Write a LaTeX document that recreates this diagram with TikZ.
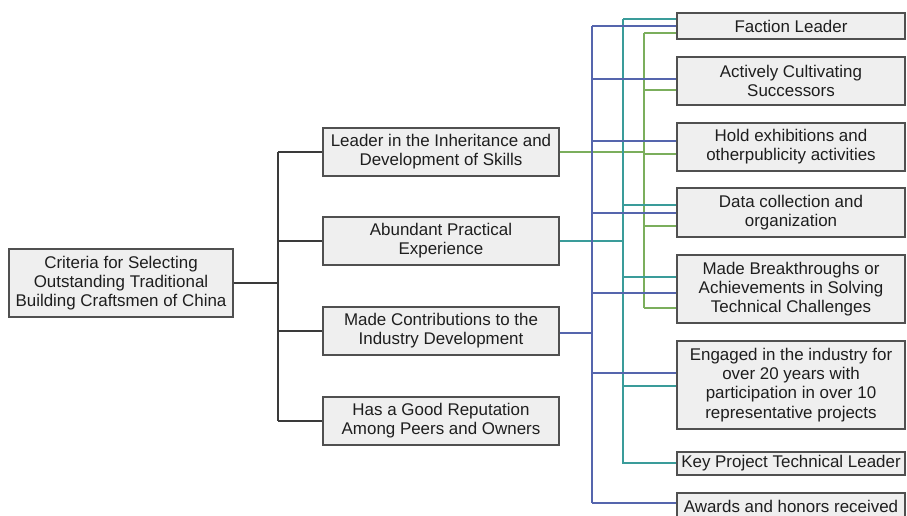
\documentclass[tikz,border=0pt]{standalone}
\usepackage{fontspec}
\setmainfont{Liberation Sans}
\begin{document}
\begin{tikzpicture}[x=1bp,y=-1bp,
  box/.style={draw=boxline, fill=boxfill, line width=1.3bp, align=center, inner sep=0pt,
    text=txt, font=\fontsize{17}{19.3}\selectfont},
  rbox/.style={box, minimum width=228bp},
  lbox/.style={box, minimum width=236bp, minimum height=48bp},
  blk/.style={draw=blkline, line width=1.3bp},
  blu/.style={draw=bluline, line width=1.2bp},
  tea/.style={draw=tealine, line width=1.2bp},
  grn/.style={draw=grnline, line width=1.2bp}]
\definecolor{boxline}{HTML}{505050}
\definecolor{boxfill}{HTML}{EFEFEF}
\definecolor{txt}{HTML}{1E1E1E}
\definecolor{blkline}{HTML}{3A3A3A}
\definecolor{bluline}{HTML}{5565AD}
\definecolor{tealine}{HTML}{3A9C9A}
\definecolor{grnline}{HTML}{7BAE5C}
\useasboundingbox (0,0) rectangle (907,516);
\fill[white] (0,0) rectangle (907,516);

% lanes
\coordinate (tx) at (278,0);
\coordinate (bx) at (592,0);
\coordinate (cx) at (623,0);
\coordinate (gx) at (644,0);

% root and level 1
\node[box, minimum width=224bp, minimum height=68bp] (root) at (121,283)
  {Criteria for Selecting\\Outstanding Traditional\\Building Craftsmen of China};
\node[lbox] (L1) at (441,152) {Leader in the Inheritance and\\Development of Skills};
\node[lbox] (L2) at (441,241) {Abundant Practical\\Experience};
\node[lbox] (L3) at (441,331) {Made Contributions to the\\Industry Development};
\node[lbox] (L4) at (441,421) {Has a Good Reputation\\Among Peers and Owners};

% right column
\node[rbox, minimum height=26bp] (R1) at (791,26) {Faction Leader};
\node[rbox, minimum height=48bp] (R2) at (791,81) {Actively Cultivating\\Successors};
\node[rbox, minimum height=48bp] (R3) at (791,147) {Hold exhibitions and\\otherpublicity activities};
\node[rbox, minimum height=49bp] (R4) at (791,212.5) {Data collection and\\organization};
\node[rbox, minimum height=68bp] (R5) at (791,289) {Made Breakthroughs or\\Achievements in Solving\\Technical Challenges};
\node[rbox, minimum height=88bp] (R6) at (791,385) {Engaged in the industry for\\over 20 years with\\participation in over 10\\representative projects};
\node[rbox, minimum height=23bp] (R7) at (791,463.5) {Key Project Technical Leader};
\node[rbox, minimum height=26bp] (R8) at (791,506) {Awards and honors received};

% black tree
\draw[blk] (root.east) -- (root.east -| tx);
\draw[blk] (L1.west -| tx) -- (L4.west -| tx);
\foreach \n in {L1,L2,L3,L4} \draw[blk] (\n.west -| tx) -- (\n.west);

% green (from L1)
\draw[grn] (L1.east) -- (L1.east -| gx);
\draw[grn] ([yshift=-7bp]R1.west -| gx) -- ([yshift=-19bp]R5.west -| gx);
\draw[grn] ([yshift=-7bp]R1.west -| gx) -- ([yshift=-7bp]R1.west);
\draw[grn] ([yshift=-9bp]R2.west -| gx) -- ([yshift=-9bp]R2.west);
\draw[grn] ([yshift=-7bp]R3.west -| gx) -- ([yshift=-7bp]R3.west);
\draw[grn] ([yshift=-13.5bp]R4.west -| gx) -- ([yshift=-13.5bp]R4.west);
\draw[grn] ([yshift=-19bp]R5.west -| gx) -- ([yshift=-19bp]R5.west);

% teal (from L2)
\draw[tea] (L2.east) -- (L2.east -| cx);
\draw[tea] ([yshift=7bp]R1.west -| cx) -- (R7.west -| cx);
\draw[tea] ([yshift=7bp]R1.west -| cx) -- ([yshift=7bp]R1.west);
\draw[tea] ([yshift=7.5bp]R4.west -| cx) -- ([yshift=7.5bp]R4.west);
\draw[tea] ([yshift=12bp]R5.west -| cx) -- ([yshift=12bp]R5.west);
\draw[tea] ([yshift=-1bp]R6.west -| cx) -- ([yshift=-1bp]R6.west);
\draw[tea] ([yshift=0.5bp]R7.west -| cx) -- ([yshift=0.5bp]R7.west);

% blue (from L3)
\draw[blu] ([yshift=-2bp]L3.east) -- ([yshift=-2bp]L3.east -| bx);
\draw[blu] (R1.west -| bx) -- ([yshift=3bp]R8.west -| bx);
\draw[blu] (R1.west -| bx) -- (R1.west);
\draw[blu] ([yshift=2bp]R2.west -| bx) -- ([yshift=2bp]R2.west);
\draw[blu] ([yshift=6bp]R3.west -| bx) -- ([yshift=6bp]R3.west);
\draw[blu] ([yshift=-0.5bp]R4.west -| bx) -- ([yshift=-0.5bp]R4.west);
\draw[blu] ([yshift=-4bp]R5.west -| bx) -- ([yshift=-4bp]R5.west);
\draw[blu] ([yshift=12bp]R6.west -| bx) -- ([yshift=12bp]R6.west);
\draw[blu] ([yshift=3bp]R8.west -| bx) -- ([yshift=3bp]R8.west);
\end{tikzpicture}
\end{document}
